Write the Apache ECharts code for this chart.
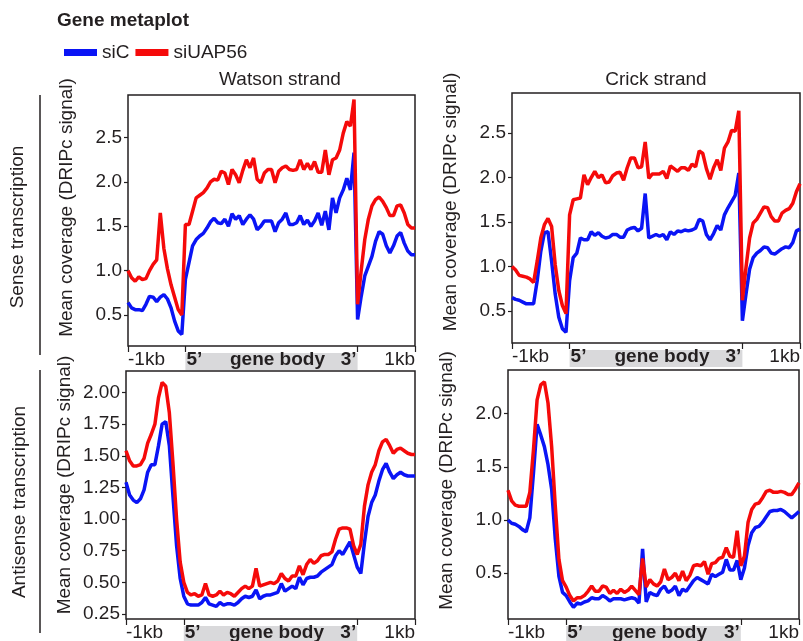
<!DOCTYPE html>
<html>
<head>
<meta charset="utf-8">
<title>Gene metaplot</title>
<script src="https://cdn.jsdelivr.net/npm/echarts@6/dist/echarts.min.js"></script>
<style>
  html, body { margin: 0; padding: 0; background: #fff; }
  #chart { width: 803px; height: 641px; }
</style>
</head>
<body>
<div id="chart"></div>
<script>
// metagene bins: 16 upstream (-1kb..5'), 48 over the scaled gene body, 16 downstream (3'..+1kb)
var binStep = 1.25;
var sectionTicks = [0, 20, 80, 100];
var sectionLabels = ['-1kb', '5\u2019', 'gene body', '3\u2019', '1kb'];

var senseTicks = [0.5, 1.0, 1.5, 2.0, 2.5];
var watsonAntiTicks = [0.25, 0.5, 0.75, 1.0, 1.25, 1.5, 1.75, 2.0];
var crickAntiTicks = [0.5, 1.0, 1.5, 2.0];

// Watson strand, sense transcription
var watsonSenseSiC = [
  0.64, 0.58, 0.56, 0.56, 0.55, 0.62, 0.71, 0.70, 0.65, 0.70, 0.73, 0.68, 0.58, 0.43, 0.32, 0.28,
  0.90, 1.09, 1.28, 1.35, 1.39, 1.42, 1.48, 1.55, 1.59, 1.54, 1.53, 1.58, 1.50, 1.64, 1.58, 1.62,
  1.52, 1.58, 1.63, 1.58, 1.46, 1.50, 1.56, 1.56, 1.56, 1.44, 1.54, 1.58, 1.65, 1.52, 1.52, 1.54,
  1.62, 1.52, 1.57, 1.50, 1.56, 1.65, 1.51, 1.67, 1.46, 1.82, 1.65, 1.82, 1.91, 2.04, 1.91, 2.33,
  0.45, 0.71, 0.94, 1.05, 1.16, 1.33, 1.44, 1.41, 1.28, 1.20, 1.28, 1.39, 1.43, 1.31, 1.22, 1.18, 1.18
];
var watsonSenseSiUAP56 = [
  1.00, 0.92, 0.88, 0.93, 0.90, 0.91, 1.00, 1.07, 1.12, 1.65, 1.25, 1.02, 0.84, 0.70, 0.56, 0.50,
  1.52, 1.52, 1.67, 1.82, 1.85, 1.88, 1.93, 2.00, 2.03, 2.02, 2.12, 2.10, 1.97, 2.14, 2.08, 1.99,
  2.13, 2.25, 2.16, 2.27, 2.03, 1.99, 2.10, 2.14, 2.14, 1.99, 2.12, 2.16, 2.18, 2.14, 2.13, 2.14,
  2.25, 2.14, 2.21, 2.14, 2.23, 2.11, 2.11, 2.36, 2.08, 2.25, 2.27, 2.36, 2.55, 2.68, 2.63, 2.93,
  0.62, 1.00, 1.35, 1.58, 1.73, 1.80, 1.83, 1.78, 1.71, 1.62, 1.62, 1.73, 1.74, 1.65, 1.52, 1.48, 1.48
];

// Crick strand, sense transcription
var crickSenseSiC = [
  0.65, 0.63, 0.62, 0.60, 0.58, 0.58, 0.58, 0.84, 1.17, 1.38, 1.39, 1.06, 0.69, 0.43, 0.30, 0.26,
  0.84, 1.10, 1.15, 1.32, 1.30, 1.30, 1.39, 1.35, 1.38, 1.34, 1.32, 1.33, 1.36, 1.36, 1.33, 1.33,
  1.41, 1.43, 1.44, 1.40, 1.43, 1.82, 1.32, 1.34, 1.36, 1.34, 1.36, 1.30, 1.39, 1.36, 1.40, 1.39,
  1.41, 1.40, 1.41, 1.43, 1.53, 1.51, 1.36, 1.30, 1.37, 1.46, 1.41, 1.58, 1.66, 1.73, 1.80, 2.05,
  0.39, 0.69, 0.97, 1.10, 1.15, 1.18, 1.22, 1.21, 1.15, 1.14, 1.17, 1.20, 1.22, 1.21, 1.27, 1.40, 1.42
];
var crickSenseSiUAP56 = [
  1.00, 0.96, 0.90, 0.89, 0.88, 0.86, 0.82, 1.06, 1.32, 1.47, 1.54, 1.45, 1.02, 0.73, 0.56, 0.47,
  1.58, 1.75, 1.76, 1.77, 2.03, 1.92, 2.00, 2.07, 2.00, 2.03, 1.94, 1.95, 2.02, 2.05, 2.06, 1.97,
  2.11, 2.22, 2.22, 2.11, 2.12, 2.40, 1.99, 2.04, 2.04, 2.04, 2.07, 1.99, 2.13, 2.10, 2.07, 2.11,
  2.11, 2.08, 2.15, 2.12, 2.30, 2.27, 2.10, 1.98, 2.11, 2.20, 2.08, 2.33, 2.40, 2.53, 2.52, 2.75,
  0.62, 0.99, 1.32, 1.49, 1.53, 1.60, 1.67, 1.66, 1.56, 1.51, 1.51, 1.60, 1.63, 1.65, 1.71, 1.84, 1.93
];

// Watson strand, antisense transcription
var watsonAntiSiC = [
  1.29, 1.19, 1.15, 1.13, 1.16, 1.23, 1.37, 1.43, 1.43, 1.58, 1.75, 1.77, 1.58, 1.18, 0.79, 0.53,
  0.39, 0.33, 0.32, 0.32, 0.32, 0.34, 0.38, 0.33, 0.32, 0.31, 0.34, 0.32, 0.33, 0.33, 0.32, 0.34,
  0.37, 0.39, 0.38, 0.39, 0.44, 0.37, 0.39, 0.40, 0.40, 0.41, 0.42, 0.49, 0.43, 0.45, 0.47, 0.45,
  0.54, 0.48, 0.53, 0.54, 0.54, 0.55, 0.58, 0.60, 0.62, 0.64, 0.71, 0.75, 0.72, 0.77, 0.82, 0.72,
  0.62, 0.57, 0.81, 1.02, 1.13, 1.19, 1.30, 1.39, 1.44, 1.37, 1.32, 1.35, 1.37, 1.35, 1.34, 1.34, 1.34
];
var watsonAntiSiUAP56 = [
  1.54, 1.46, 1.42, 1.42, 1.43, 1.48, 1.60, 1.67, 1.75, 1.96, 2.08, 2.05, 1.84, 1.44, 1.00, 0.66,
  0.50, 0.42, 0.40, 0.41, 0.39, 0.40, 0.49, 0.40, 0.39, 0.40, 0.43, 0.40, 0.42, 0.41, 0.39, 0.42,
  0.45, 0.47, 0.45, 0.47, 0.61, 0.47, 0.48, 0.49, 0.50, 0.49, 0.51, 0.57, 0.53, 0.51, 0.55, 0.55,
  0.63, 0.56, 0.64, 0.68, 0.65, 0.67, 0.71, 0.72, 0.72, 0.74, 0.84, 0.92, 0.93, 0.93, 0.92, 0.79,
  0.72, 0.80, 1.10, 1.27, 1.37, 1.43, 1.54, 1.61, 1.63, 1.58, 1.52, 1.55, 1.56, 1.54, 1.52, 1.51, 1.51
];

// Crick strand, antisense transcription
var crickAntiSiC = [
  1.00, 0.97, 0.96, 0.94, 0.91, 0.89, 1.02, 1.44, 1.90, 1.80, 1.69, 1.52, 1.29, 0.82, 0.47, 0.32,
  0.29, 0.23, 0.18, 0.22, 0.21, 0.23, 0.24, 0.27, 0.26, 0.26, 0.29, 0.27, 0.24, 0.26, 0.26, 0.26,
  0.25, 0.26, 0.27, 0.26, 0.22, 0.73, 0.23, 0.32, 0.30, 0.29, 0.35, 0.38, 0.32, 0.34, 0.38, 0.29,
  0.35, 0.33, 0.38, 0.43, 0.46, 0.44, 0.42, 0.40, 0.49, 0.47, 0.49, 0.51, 0.63, 0.53, 0.53, 0.62,
  0.44, 0.55, 0.76, 0.88, 0.93, 0.94, 0.98, 1.03, 1.08, 1.09, 1.09, 1.10, 1.08, 1.05, 1.02, 1.05, 1.08
];
var crickAntiSiUAP56 = [
  1.28, 1.18, 1.14, 1.13, 1.13, 1.13, 1.26, 1.66, 2.13, 2.27, 2.30, 2.10, 1.69, 1.13, 0.63, 0.43,
  0.37, 0.29, 0.24, 0.27, 0.27, 0.29, 0.33, 0.38, 0.33, 0.33, 0.38, 0.37, 0.31, 0.34, 0.31, 0.35,
  0.32, 0.34, 0.38, 0.34, 0.30, 0.64, 0.37, 0.44, 0.40, 0.38, 0.42, 0.54, 0.44, 0.46, 0.50, 0.43,
  0.52, 0.43, 0.48, 0.57, 0.58, 0.57, 0.61, 0.49, 0.59, 0.60, 0.64, 0.65, 0.74, 0.66, 0.65, 0.90,
  0.57, 0.66, 0.98, 1.10, 1.15, 1.16, 1.21, 1.27, 1.28, 1.26, 1.26, 1.27, 1.26, 1.24, 1.24, 1.29, 1.35
];

var FONT = '"Liberation Sans", Arial, Helvetica, sans-serif';
var INK = '#231f20';
var BLUE = '#0a14f5';
var RED = '#f50a0a';

var panels = [
  { grid: { left: 128, top: 95, width: 287, height: 251 }, yMin: 0.15, yMax: 2.98,
    ticks: senseTicks, dec: 1, sic: watsonSenseSiC, uap: watsonSenseSiUAP56, namePad: 26 },
  { grid: { left: 512, top: 93, width: 288, height: 250 }, yMin: 0.14, yMax: 2.95,
    ticks: senseTicks, dec: 1, sic: crickSenseSiC, uap: crickSenseSiUAP56, namePad: 32 },
  { grid: { left: 126, top: 371, width: 289, height: 248 }, yMin: 0.21, yMax: 2.17,
    ticks: watsonAntiTicks, dec: 2, sic: watsonAntiSiC, uap: watsonAntiSiUAP56, namePad: 20 },
  { grid: { left: 508, top: 370, width: 291, height: 249 }, yMin: 0.07, yMax: 2.41,
    ticks: crickAntiTicks, dec: 1, sic: crickAntiSiC, uap: crickAntiSiUAP56, namePad: 28 }
];

function toPoints(values) {
  return values.map(function (v, i) { return [i * binStep, v]; });
}

var chart = echarts.init(document.getElementById('chart'));

var option = {
  animation: false,
  backgroundColor: '#fff',
  legend: {
    data: ['siC', 'siUAP56'],
    left: 59,
    top: 38,
    icon: 'rect',
    itemWidth: 33,
    itemHeight: 7,
    itemGap: 6,
    textStyle: { fontSize: 19, color: INK, fontFamily: FONT }
  },
  grid: [],
  xAxis: [],
  yAxis: [],
  series: []
};

panels.forEach(function (p, i) {
  option.grid.push({
    left: p.grid.left, top: p.grid.top, width: p.grid.width, height: p.grid.height,
    show: true, borderColor: INK, borderWidth: 1.5,
    containLabel: false, outerBoundsMode: 'none'
  });
  option.xAxis.push({
    gridIndex: i, type: 'value', min: 0, max: 100,
    axisLine: { show: false },
    splitLine: { show: false },
    axisLabel: { show: false },
    axisTick: { show: true, customValues: sectionTicks, length: 6, lineStyle: { color: INK, width: 1.2 } }
  });
  option.yAxis.push({
    gridIndex: i, type: 'value', min: p.yMin, max: p.yMax,
    axisLine: { show: false },
    splitLine: { show: false },
    axisTick: { show: true, customValues: p.ticks, length: 4, lineStyle: { color: INK, width: 1.2 } },
    axisLabel: {
      customValues: p.ticks, margin: 6, fontSize: 19, color: INK, fontFamily: FONT,
      formatter: (function (d) { return function (v) { return Number(v).toFixed(d); }; })(p.dec)
    },
    name: 'Mean coverage (DRIPc signal)',
    nameLocation: 'middle',
    nameGap: 52,
    nameTextStyle: { fontSize: 19, color: INK, fontFamily: FONT, padding: [0, 0, 0, p.namePad] }
  });
  option.series.push({
    name: 'siC', type: 'line', xAxisIndex: i, yAxisIndex: i,
    data: toPoints(p.sic), showSymbol: false, symbol: 'none',
    lineStyle: { color: BLUE, width: 3.5 }, itemStyle: { color: BLUE }, z: 2
  });
  option.series.push({
    name: 'siUAP56', type: 'line', xAxisIndex: i, yAxisIndex: i,
    data: toPoints(p.uap), showSymbol: false, symbol: 'none',
    lineStyle: { color: RED, width: 3.5 }, itemStyle: { color: RED }, z: 3
  });
});

chart.setOption(option);

function label(text, x, y, align, bold, rotate) {
  return {
    type: 'text', x: x, y: y, rotation: rotate || 0, z: 10,
    style: {
      text: text, fill: INK,
      font: (bold ? 'bold ' : '') + '19px ' + FONT,
      align: align, verticalAlign: 'middle',
      textAlign: align, textVerticalAlign: 'middle'
    }
  };
}

var graphics = [
  label('Gene metaplot', 57, 21, 'left', true),
  label('Watson strand', 280, 80, 'center', false),
  label('Crick strand', 656, 80, 'center', false),
  label('Sense transcription', 18, 227, 'center', false, Math.PI / 2),
  label('Antisense transcription', 20, 502, 'center', false, Math.PI / 2),
  { type: 'line', shape: { x1: 40, y1: 95, x2: 40, y2: 355 }, style: { stroke: INK, lineWidth: 1.5 } },
  { type: 'line', shape: { x1: 40, y1: 370, x2: 40, y2: 633 }, style: { stroke: INK, lineWidth: 1.5 } }
];

panels.forEach(function (p, i) {
  var xs = sectionTicks.map(function (v) { return chart.convertToPixel({ xAxisIndex: i }, v); });
  var yb = chart.convertToPixel({ yAxisIndex: i }, p.yMin);
  var ty = yb + 14;
  graphics.push({
    type: 'rect', z: 1,
    shape: { x: xs[1], y: yb + 7, width: xs[2] - xs[1], height: 17 },
    style: { fill: '#d9d9db' }
  });
  graphics.push(label(sectionLabels[0], xs[0], ty, 'left', false));
  graphics.push(label(sectionLabels[1], xs[1] + 1, ty, 'left', true));
  graphics.push(label(sectionLabels[2], (xs[1] + xs[2]) / 2 + 6, ty, 'center', true));
  graphics.push(label(sectionLabels[3], xs[2] - 1, ty, 'right', true));
  graphics.push(label(sectionLabels[4], xs[3], ty, 'right', false));
});

chart.setOption({ graphic: graphics });
</script>
</body>
</html>
